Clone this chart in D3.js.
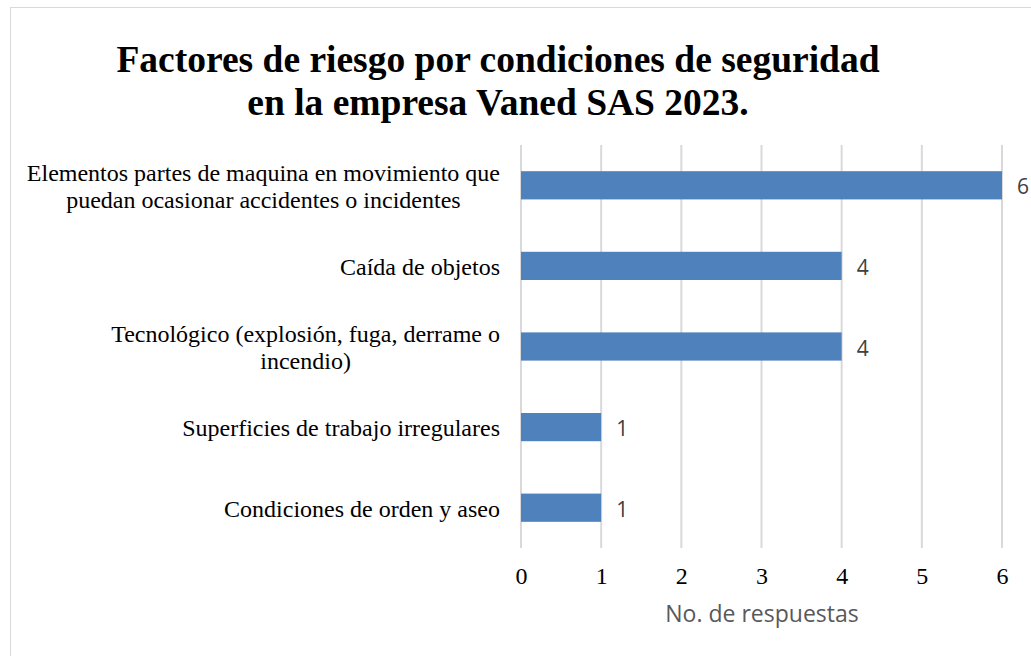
<!DOCTYPE html>
<html>
<head><meta charset="utf-8">
<style>
  body { margin: 0; background: #fff; }
  svg text { font-family: "Liberation Serif", "Times New Roman", serif; }
</style>
</head>
<body>
<script src="https://d3js.org/d3.v7.min.js"></script>
<script>
var categories = [
  ["Elementos partes de maquina en movimiento que", "puedan ocasionar accidentes o incidentes"],
  ["Caída de objetos"],
  ["Tecnológico (explosión, fuga, derrame o", "incendio)"],
  ["Superficies de trabajo irregulares"],
  ["Condiciones de orden y aseo"]
];
var values = [6, 4, 4, 1, 1];
var ticks = [0, 1, 2, 3, 4, 5, 6];
var titleLines = ["Factores de riesgo por condiciones de seguridad", "en la empresa Vaned SAS 2023."];
var axisTitle = "No. de respuestas";

var width = 1031, height = 656;
var svg = d3.select("body").append("svg")
  .attr("width", width).attr("height", height);

// chart border
svg.append("rect")
  .attr("x", 10.5).attr("y", 7.5)
  .attr("width", 1040).attr("height", 680)
  .attr("fill", "#fff").attr("stroke", "#d9d9d9");

var x = d3.scaleLinear().domain([0, 6]).range([521, 1002]);
var y = d3.scaleBand().domain(d3.range(values.length)).range([145, 548]).paddingInner(0.65).paddingOuter(0.325);

// title
svg.append("g").selectAll("text")
  .data(titleLines).enter().append("text")
  .attr("x", 498).attr("y", (d, i) => 72 + i * 43)
  .attr("text-anchor", "middle")
  .style("font-size", "37.5px").style("font-weight", "bold")
  .text(d => d);

// gridlines
svg.append("g").selectAll("line")
  .data(ticks).enter().append("line")
  .attr("x1", d => x(d)).attr("x2", d => x(d))
  .attr("y1", 145).attr("y2", 548)
  .attr("stroke", "#d9d9d9").attr("stroke-width", 2);

// bars
svg.append("g").selectAll("rect")
  .data(values).enter().append("rect")
  .attr("x", x(0)).attr("y", (d, i) => y(i))
  .attr("width", d => x(d) - x(0)).attr("height", y.bandwidth())
  .attr("fill", "#4f81bd");

// data labels
svg.append("g").selectAll("text")
  .data(values).enter().append("text")
  .attr("x", d => x(d) + 15).attr("y", (d, i) => y(i) + y.bandwidth() / 2 + 9)
  .style("font-family", "'Open Sans', sans-serif").style("font-size", "21px")
  .attr("fill", "#404040")
  .text(d => d);

// category labels: block right-aligned at 500, lines centred inside the block
var cat = svg.append("g");
categories.forEach(function(lines, i) {
  var cy = y(i) + y.bandwidth() / 2;
  var top = cy + 9 - (lines.length - 1) * 13.5;
  var texts = lines.map(function(l, j) {
    return cat.append("text")
      .attr("y", top + j * 27)
      .attr("text-anchor", "middle")
      .style("font-size", "24px").attr("fill", "#000")
      .text(l);
  });
  var w = d3.max(texts, t => t.node().getComputedTextLength());
  texts.forEach(t => t.attr("x", 500 - w / 2));
});

// tick labels
var xAxis = d3.axisBottom(x).tickValues(ticks).tickSize(0).tickPadding(0).tickFormat(d3.format("d"));
var ax = svg.append("g").attr("transform", "translate(0,584)").call(xAxis);
ax.select(".domain").remove();
ax.selectAll("text")
  .style("font-family", "'Liberation Serif', serif").style("font-size", "24px")
  .attr("fill", "#000").attr("y", 0).attr("dy", 0);

// axis title
svg.append("text")
  .attr("x", 762).attr("y", 622)
  .attr("text-anchor", "middle")
  .style("font-family", "'Open Sans', sans-serif").style("font-size", "23px")
  .attr("fill", "#595959")
  .text(axisTitle);
</script>
</body>
</html>
